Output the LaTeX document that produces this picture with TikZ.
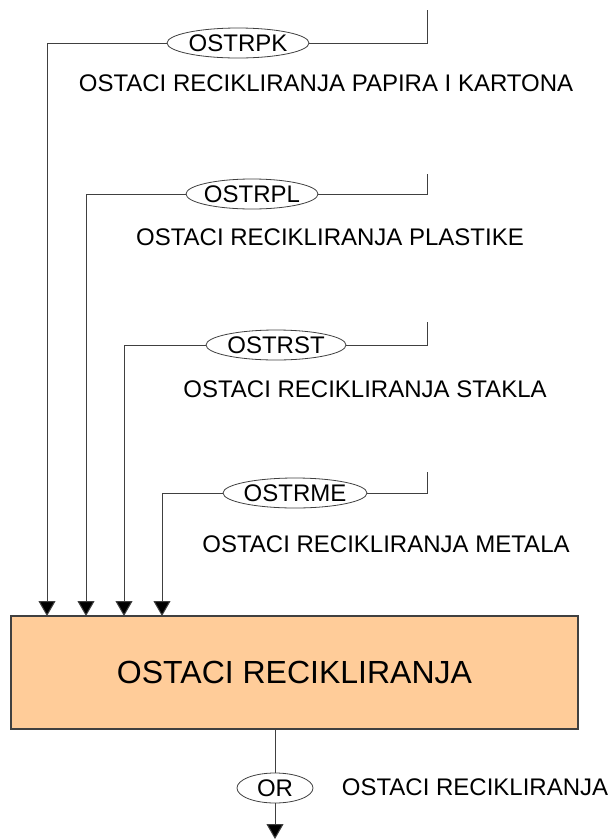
\documentclass[tikz,border=0pt]{standalone}
\usepackage{fontspec}
\setmainfont{Liberation Sans}
\usepackage{tikz}
\usetikzlibrary{arrows.meta, shapes.geometric}

\definecolor{peach}{RGB}{255,204,153}
\definecolor{edge}{RGB}{64,64,64}

\tikzset{
	wire/.style={draw=edge, line width=1pt},
	flow/.style={wire, -{Triangle[width=17pt, length=15pt, fill=black]}},
	oval/.style={ellipse, draw=edge, line width=0.8pt, fill=white, inner xsep=-20pt, inner ysep=-6pt, minimum height=30pt, font=\fontsize{24}{27}\selectfont},
	caption/.style={font=\fontsize{24}{28}\selectfont},
	stockbox/.style={rectangle, draw=edge, line width=1.5pt, fill=peach, minimum width=567pt, minimum height=113pt, font=\fontsize{32}{36}\selectfont},
}

\begin{document}
\begin{tikzpicture}[x=1pt, y=-1pt]
		\useasboundingbox (0, 0) rectangle (613, 839);
		% main box
		\node[stockbox] (ostaci) at (294.5, 672.5) {OSTACI RECIKLIRANJA};
		% incoming streams
		\node[oval, minimum width=142pt] (ostrpk) at (238, 43) {OSTRPK};
		\node[oval, minimum width=132pt] (ostrpl) at (252, 194) {OSTRPL};
		\node[oval, minimum width=140pt] (ostrst) at (276, 345) {OSTRST};
		\node[oval, minimum width=144pt] (ostrme) at (295, 493) {OSTRME};
		\node[caption] (lblpk) at (326, 83) {OSTACI RECIKLIRANJA PAPIRA I KARTONA};
		\node[caption] (lblpl) at (330, 237) {OSTACI RECIKLIRANJA PLASTIKE};
		\node[caption] (lblst) at (365, 389) {OSTACI RECIKLIRANJA STAKLA};
		\node[caption] (lblme) at (386, 544) {OSTACI RECIKLIRANJA METALA};
		\coordinate (srcpk) at (427, 10);
		\coordinate (srcpl) at (427, 174);
		\coordinate (srcst) at (427, 322);
		\coordinate (srcme) at (427, 472);
		\coordinate (inpk) at (47, 616);
		\coordinate (inpl) at (86, 616);
		\coordinate (inst) at (124, 616);
		\coordinate (inme) at (162, 616);
		\draw[wire] (srcpk) |- (ostrpk.east);
		\draw[wire] (srcpl) |- (ostrpl.east);
		\draw[wire] (srcst) |- (ostrst.east);
		\draw[wire] (srcme) |- (ostrme.east);
		\draw[flow] (ostrpk.west) -| (inpk);
		\draw[flow] (ostrpl.west) -| (inpl);
		\draw[flow] (ostrst.west) -| (inst);
		\draw[flow] (ostrme.west) -| (inme);
		% outgoing stream
		\node[oval, minimum width=76pt] (or) at (275, 788) {OR};
		\node[caption] (lblor) at (475, 787) {OSTACI RECIKLIRANJA};
		\coordinate (sink) at (275, 839);
		\draw[wire] (or |- ostaci.south) -- (or.north);
		\draw[flow] (or.south) -- (sink);
	\end{tikzpicture}
\end{document}
